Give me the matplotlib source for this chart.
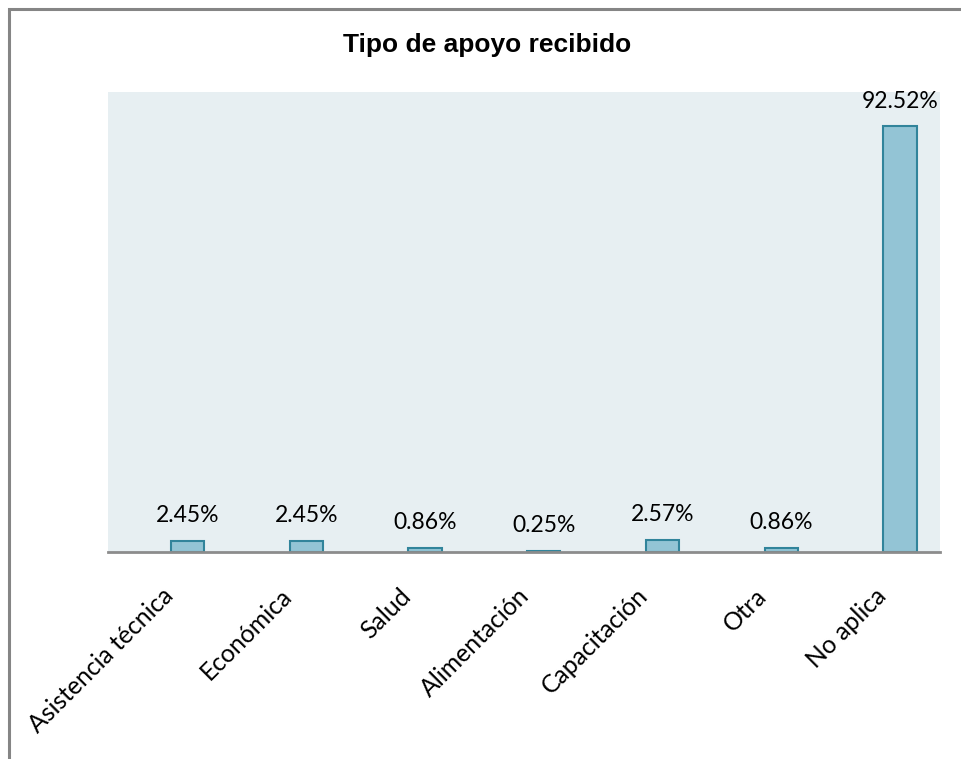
import matplotlib
matplotlib.use("Agg")
import matplotlib.pyplot as plt
from matplotlib.patches import Rectangle

categories = ["Asistencia técnica", "Económica", "Salud", "Alimentación",
              "Capacitación", "Otra", "No aplica"]
values = [2.45, 2.45, 0.86, 0.25, 2.57, 0.86, 92.52]
value_labels = ["2.45%", "2.45%", "0.86%", "0.25%", "2.57%", "0.86%", "92.52%"]
title = "Tipo de apoyo recibido"

W, H = 961, 759
fig = plt.figure(figsize=(W / 100, H / 100), dpi=100)
fig.patch.set_facecolor("white")

# outer border (extends beyond right/bottom edges as in the reference)
fig.patches.append(Rectangle((8.5 / W, -0.05), 1.2, (H - 8.5) / H + 0.05,
                             transform=fig.transFigure, fill=False,
                             edgecolor="#858585", linewidth=2.2, zorder=0))

left, right, top, bottom = 108, 940, 92, 552
ax = fig.add_axes([left / W, 1 - bottom / H, (right - left) / W, (bottom - top) / H])
ax.set_facecolor("#E7EFF2")

x = list(range(len(categories)))
bars = ax.bar(x, values, width=0.28, color="#93C4D5", edgecolor="#31849B",
              linewidth=1.5, zorder=2)
ax.set_xlim(-0.67, len(categories) - 1 + 0.337)
ax.set_ylim(0, 100)

for xi, v, lab in zip(x, values, value_labels):
    ax.annotate(lab, (xi, v), xytext=(0, 13.5), textcoords="offset points",
                ha="center", va="baseline", fontsize=16.5, family="Lato",
                color="black")

for s in ["top", "right", "left"]:
    ax.spines[s].set_visible(False)
ax.spines["bottom"].set_color("#8C8C8C")
ax.spines["bottom"].set_linewidth(2)
ax.set_yticks([])
ax.set_xticks([xi - 0.22 for xi in x])
ax.tick_params(axis="x", length=0, pad=23)
ax.set_xticklabels(categories, rotation=45, ha="right", va="top",
                   rotation_mode="anchor", fontsize=17.8, family="Lato")

fig.text(487 / W, 1 - 45 / H, title, ha="center", va="center",
         fontsize=19, fontweight="bold", family="Liberation Sans")

fig.savefig("out.png", dpi=100)
